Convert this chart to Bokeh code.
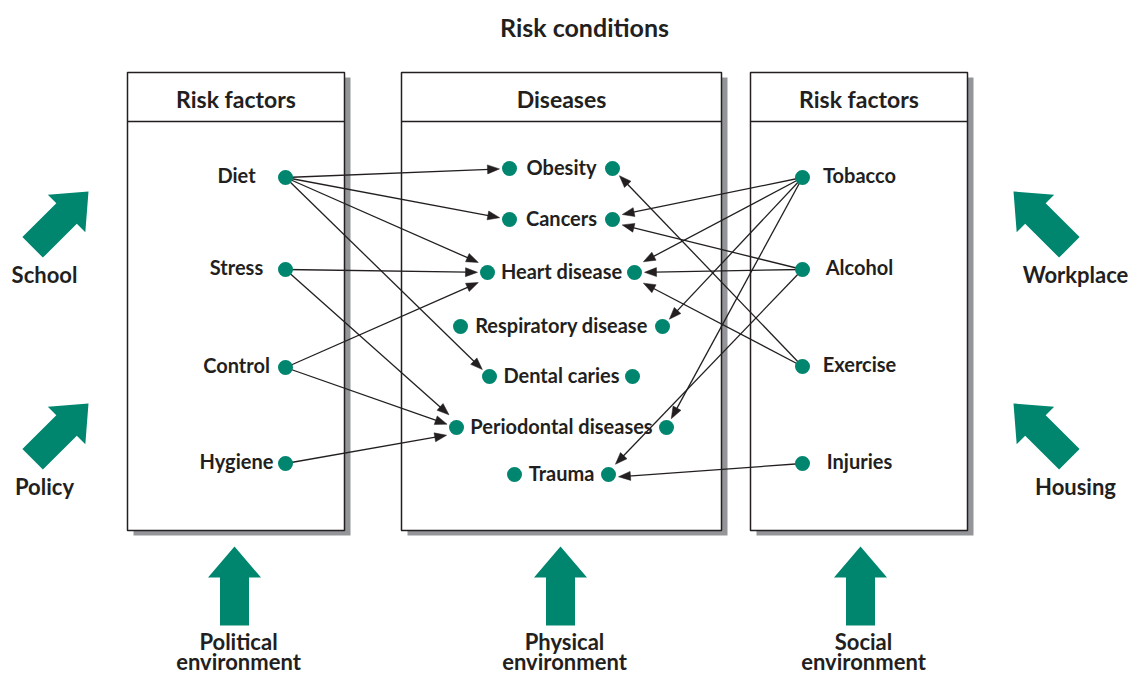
import math
from bokeh.plotting import figure
from bokeh.models import Range1d
from bokeh.core.properties import value
from bokeh.embed import file_html
from bokeh.resources import INLINE

# ---------------- content ----------------
TITLE = "Risk conditions"
HEADERS = ["Risk factors", "Diseases", "Risk factors"]
LEFT_FACTORS = ["Diet", "Stress", "Control", "Hygiene"]
RIGHT_FACTORS = ["Tobacco", "Alcohol", "Exercise", "Injuries"]
DISEASES = ["Obesity", "Cancers", "Heart disease", "Respiratory disease",
            "Dental caries", "Periodontal diseases", "Trauma"]
LEFT_LINKS = [("Diet", "Obesity"), ("Diet", "Cancers"), ("Diet", "Heart disease"),
              ("Diet", "Dental caries"), ("Stress", "Heart disease"),
              ("Stress", "Periodontal diseases"), ("Control", "Heart disease"),
              ("Control", "Periodontal diseases"), ("Hygiene", "Periodontal diseases")]
RIGHT_LINKS = [("Tobacco", "Cancers"), ("Tobacco", "Heart disease"),
               ("Tobacco", "Respiratory disease"), ("Tobacco", "Periodontal diseases"),
               ("Alcohol", "Cancers"), ("Alcohol", "Heart disease"), ("Alcohol", "Trauma"),
               ("Exercise", "Obesity"), ("Exercise", "Heart disease"),
               ("Injuries", "Trauma")]
SIDE_LEFT = ["School", "Policy"]
SIDE_RIGHT = ["Workplace", "Housing"]
BOTTOM_LINE1 = ["Political", "Physical", "Social"]
BOTTOM_LINE2 = ["environment", "environment", "environment"]

# ---------------- layout (pixel space, y grows downward) ----------------
BOX_X = [(127, 344), (401, 721), (750, 967)]
BOX_TOP, BOX_BOTTOM, HEADER_LINE = 72, 530, 121
SHADOW_DX, SHADOW_DY = 6, 5
LEFT_DOT_X, RIGHT_DOT_X = 285, 802
LEFT_ROW_Y = [177, 269, 367, 463]
RIGHT_ROW_Y = [177, 269, 366, 463]
DIS_ROW_Y = [168, 219, 272, 326, 376, 427, 474]
DIS_LEFT_X = [509, 509, 487, 460, 489, 456, 514]
DIS_RIGHT_X = [612, 612, 634, 662, 632, 666, 608]
SIDE_ARROW_TIPS_L = [(88, 191), (88, 403)]
SIDE_ARROW_TIPS_R = [(1013, 191), (1013, 403)]
BOTTOM_ARROW_TIPS = [(234, 546), (560, 546), (860, 546)]

TEAL = "#00856f"
INK = "#231f20"
SHADOW = "#939598"
FONT = value("Lato")
BASELINE_FIX = 0.42   # renderer places the baseline this many em lower

X0, Y0, W, H = 0, 0, 1129, 675

p = figure(width=W, height=H, output_backend="svg", toolbar_location=None,
           x_range=Range1d(X0, X0 + W), y_range=Range1d(Y0 + H, Y0),
           min_border=0, background_fill_color="white", border_fill_color="white")
p.axis.visible = False
p.grid.visible = False
p.outline_line_color = None

# ---------------- boxes ----------------
lefts = [b[0] for b in BOX_X]
rights = [b[1] for b in BOX_X]
p.quad(left=[l + SHADOW_DX for l in lefts], right=[r + SHADOW_DX for r in rights],
       top=[BOX_TOP + SHADOW_DY] * 3, bottom=[BOX_BOTTOM + SHADOW_DY] * 3,
       fill_color=SHADOW, line_color=None)
p.quad(left=lefts, right=rights, top=[BOX_TOP] * 3, bottom=[BOX_BOTTOM] * 3,
       fill_color="white", line_color=INK, line_width=1.5)
p.segment(x0=lefts, x1=rights, y0=[HEADER_LINE] * 3, y1=[HEADER_LINE] * 3,
          line_color=INK, line_width=1.5)

# ---------------- arrows between nodes ----------------
left_pos = {n: (LEFT_DOT_X, y) for n, y in zip(LEFT_FACTORS, LEFT_ROW_Y)}
right_pos = {n: (RIGHT_DOT_X, y) for n, y in zip(RIGHT_FACTORS, RIGHT_ROW_Y)}
dis_l = {n: (x, y) for n, x, y in zip(DISEASES, DIS_LEFT_X, DIS_ROW_Y)}
dis_r = {n: (x, y) for n, x, y in zip(DISEASES, DIS_RIGHT_X, DIS_ROW_Y)}

GAP, HEAD_L, HEAD_HW, SPREAD = 10, 12, 4.5, 6

seg_x0, seg_y0, seg_x1, seg_y1, head_xs, head_ys = [], [], [], [], [], []


def add_links(links, src_pos, dst_pos):
    groups = {}
    for s, t in links:
        groups.setdefault(t, []).append(s)
    for t, srcs in groups.items():
        srcs = sorted(srcs, key=lambda s: src_pos[s][1])
        n = len(srcs)
        for i, s in enumerate(srcs):
            sx, sy = src_pos[s]
            tx, ty = dst_pos[t]
            ty = ty + (i - (n - 1) / 2) * SPREAD
            dx, dy = tx - sx, ty - sy
            d = math.hypot(dx, dy)
            ux, uy = dx / d, dy / d
            tipx, tipy = tx - ux * GAP, ty - uy * GAP
            bx, by = tipx - ux * HEAD_L, tipy - uy * HEAD_L
            seg_x0.append(sx); seg_y0.append(sy)
            seg_x1.append(bx + ux * 2); seg_y1.append(by + uy * 2)
            px, py = -uy, ux
            head_xs.append([tipx, bx + px * HEAD_HW, bx - px * HEAD_HW])
            head_ys.append([tipy, by + py * HEAD_HW, by - py * HEAD_HW])


add_links(LEFT_LINKS, left_pos, dis_l)
add_links(RIGHT_LINKS, right_pos, dis_r)

p.segment(x0=seg_x0, y0=seg_y0, x1=seg_x1, y1=seg_y1, line_color=INK, line_width=1.3)
p.patches(xs=head_xs, ys=head_ys, fill_color=INK, line_color=INK, line_width=0.5)

# ---------------- dots ----------------
dot_x = ([LEFT_DOT_X] * len(LEFT_FACTORS) + [RIGHT_DOT_X] * len(RIGHT_FACTORS)
         + DIS_LEFT_X + DIS_RIGHT_X)
dot_y = LEFT_ROW_Y + RIGHT_ROW_Y + DIS_ROW_Y + DIS_ROW_Y
p.scatter(x=dot_x, y=dot_y, size=15, fill_color=TEAL, line_color=None)

# ---------------- big teal arrows ----------------
SHAPE = [(0, 0), (26.5, 31), (14.5, 31), (14.5, 79), (-14.5, 79), (-14.5, 31), (-26.5, 31)]


def big_arrow(tip, angle_deg):
    a = math.radians(angle_deg)
    c, s = math.cos(a), math.sin(a)
    xs = [tip[0] + x * c - y * s for x, y in SHAPE]
    ys = [tip[1] + x * s + y * c for x, y in SHAPE]
    return xs, ys


bxs, bys = [], []
for tip in SIDE_ARROW_TIPS_L:
    xs, ys = big_arrow(tip, 45); bxs.append(xs); bys.append(ys)
for tip in SIDE_ARROW_TIPS_R:
    xs, ys = big_arrow(tip, -45); bxs.append(xs); bys.append(ys)
for tip in BOTTOM_ARROW_TIPS:
    xs, ys = big_arrow(tip, 0); bxs.append(xs); bys.append(ys)
p.patches(xs=bxs, ys=bys, fill_color=TEAL, line_color=None)

# ---------------- texts ----------------


def txt(x, y, t, size):
    fix = BASELINE_FIX * size
    p.text(x=x, y=[v - fix for v in y], text=t, text_font=FONT, text_font_style="bold",
           text_font_size=f"{size}px", text_color=INK, text_align="center",
           text_baseline="alphabetic")


txt([584], [37], [TITLE], 25)
txt([(l + r) / 2 for l, r in BOX_X], [108] * 3, HEADERS, 23)
txt([236] * 4, [y + 6 for y in LEFT_ROW_Y], LEFT_FACTORS, 20)
txt([859] * 4, [y + 6 for y in RIGHT_ROW_Y], RIGHT_FACTORS, 20)
txt([561] * 7, [y + 7 for y in DIS_ROW_Y], DISEASES, 20)
txt([44, 44], [283, 495], SIDE_LEFT, 22)
txt([1075, 1075], [283, 495], SIDE_RIGHT, 22)
txt([238, 564, 863], [650] * 3, BOTTOM_LINE1, 22)
txt([238, 564, 863], [670] * 3, BOTTOM_LINE2, 22)

open("out.html", "w").write(file_html(p, INLINE))
